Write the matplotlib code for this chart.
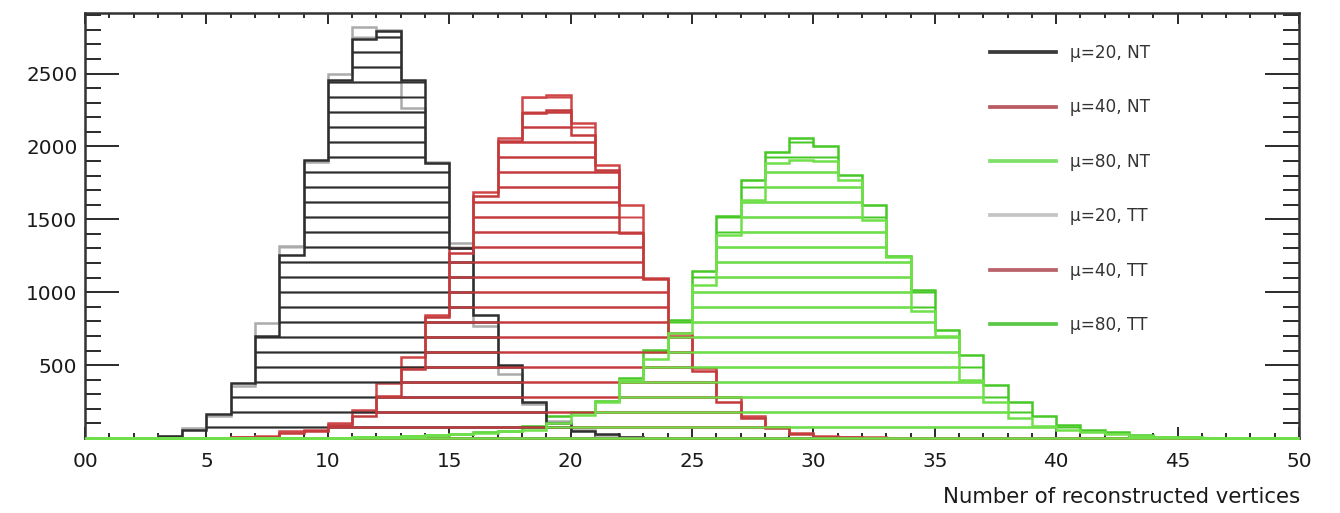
import matplotlib
matplotlib.use('Agg')
import matplotlib.pyplot as plt
from matplotlib.lines import Line2D
from matplotlib.ticker import MultipleLocator, FixedLocator
import numpy as np

plt.rcParams['font.family'] = ['DejaVu Sans']
plt.rcParams['hatch.linewidth'] = 1.6

# ---------------- data ----------------
bin_edges = list(range(0, 51))

mu20_nt = [0, 0, 3, 15, 55, 165, 375, 700, 1255, 1905,
           2455, 2740, 2790, 2456, 1885, 1300, 845, 500, 250, 100,
           50, 25, 8, 3, 0, 0, 0, 0, 0, 0,
           0, 0, 0, 0, 0, 0, 0, 0, 0, 0,
           0, 0, 0, 0, 0, 0, 0, 0, 0, 0]
mu20_tt = [0, 0, 2, 12, 70, 150, 360, 790, 1320, 1895,
           2500, 2820, 2800, 2262, 1890, 1335, 770, 440, 230, 120,
           55, 20, 6, 2, 0, 0, 0, 0, 0, 0,
           0, 0, 0, 0, 0, 0, 0, 0, 0, 0,
           0, 0, 0, 0, 0, 0, 0, 0, 0, 0]
mu40_nt = [0, 0, 0, 0, 1, 2, 5, 10, 35, 45,
           90, 150, 290, 470, 830, 1270, 1660, 2040, 2230, 2250,
           2080, 1840, 1405, 1090, 700, 460, 250, 140, 70, 25,
           10, 5, 2, 0, 0, 0, 0, 0, 0, 0,
           0, 0, 0, 0, 0, 0, 0, 0, 0, 0]
mu40_tt = [0, 0, 0, 0, 2, 3, 6, 15, 45, 55,
           100, 190, 375, 556, 845, 1300, 1690, 2060, 2340, 2355,
           2160, 1875, 1600, 1100, 720, 480, 280, 150, 78, 32,
           15, 8, 4, 2, 0, 0, 0, 0, 0, 0,
           0, 0, 0, 0, 0, 0, 0, 0, 0, 0]
mu80_nt = [0, 0, 0, 0, 0, 0, 0, 0, 0, 1,
           2, 4, 8, 12, 18, 25, 35, 45, 55, 100,
           160, 250, 400, 540, 720, 1050, 1395, 1635, 1885, 1905,
           1900, 1770, 1495, 1240, 870, 700, 400, 250, 140, 80,
           55, 40, 25, 15, 8, 4, 2, 0, 0, 0]
mu80_tt = [0, 0, 0, 0, 0, 0, 0, 0, 1, 2,
           3, 6, 10, 15, 20, 30, 40, 50, 85, 150,
           175, 255, 410, 605, 810, 1145, 1520, 1770, 1965, 2056,
           2000, 1805, 1600, 1245, 1015, 740, 570, 365, 250, 150,
           90, 55, 40, 20, 10, 5, 3, 1, 0, 0]

labels = ['μ=20, NT', 'μ=40, NT', 'μ=80, NT', 'μ=20, TT', 'μ=40, TT', 'μ=80, TT']
series = [mu20_nt, mu40_nt, mu80_nt, mu20_tt, mu40_tt, mu80_tt]
colors = ['#2e2e2e', '#c23a3c', '#6fe04a', '#ababab', '#d04648', '#47c826']
legend_colors = ['#3a3a3a', '#b85c62', '#7fe06a', '#c4c4c4', '#b8626a', '#5cc848']
draw_order = [3, 4, 5, 0, 1, 2]

xticks = [0, 5, 10, 15, 20, 25, 30, 35, 40, 45, 50]
xticklabels = ['00', '5', '10', '15', '20', '25', '30', '35', '40', '45', '50']
yticks = [500, 1000, 1500, 2000, 2500]
yticklabels = ['500', '1000', '1500', '2000', '2500']
xlabel = 'Number of reconstructed vertices'

# ---------------- figure ----------------
W, H, DPI = 1340, 513, 90
fig = plt.figure(figsize=(W / DPI, H / DPI), dpi=DPI)
ax = fig.add_axes([85 / W, 75 / H, (1299 - 85) / W, (438 - 13) / H])

edges = np.array(bin_edges, dtype=float)
centers = (edges[:-1] + edges[1:]) / 2
for k, i in enumerate(draw_order):
    _, _, patches = ax.hist(centers, bins=edges, weights=series[i], histtype='stepfilled',
                            facecolor='none', edgecolor=colors[i], linewidth=2.0, hatch='-')
    for p in patches:
        p.set_clip_on(False)
        p.set_zorder(3 + k * 0.01)

ax.set_xlim(0, 50)
ax.set_ylim(0, 2915)

ax.xaxis.set_major_locator(FixedLocator(xticks))
ax.set_xticklabels(xticklabels)
ax.xaxis.set_minor_locator(MultipleLocator(1))
ax.yaxis.set_major_locator(FixedLocator(yticks))
ax.set_yticklabels(yticklabels)
ax.yaxis.set_minor_locator(MultipleLocator(100))

ax.tick_params(axis='both', which='both', direction='in', top=True, right=True,
               color='#222222', labelcolor='#1a1a1a')
ax.tick_params(axis='x', which='major', length=9, width=1.5, pad=11, labelsize=16)
ax.tick_params(axis='x', which='minor', length=4, width=1.5)
ax.tick_params(axis='y', which='major', length=27, width=1.5, pad=6, labelsize=16)
ax.tick_params(axis='y', which='minor', length=13, width=1.5)
for s in ax.spines.values():
    s.set_linewidth(2.0)
    s.set_color('#333333')

fig.text(1300 / W, 1 - 497 / H, xlabel, ha='right', va='center',
         fontsize=17, color='#1a1a1a')

handles = [Line2D([0], [0], color=c, lw=3) for c in legend_colors]
fs = 13.5
fs_px = fs * DPI / 72
ax.legend(handles, labels, loc='upper left',
          bbox_to_anchor=(990 / W, 1 - 44 / H), bbox_transform=fig.transFigure,
          frameon=False, fontsize=fs, borderpad=0, borderaxespad=0,
          handlelength=66 / fs_px, handletextpad=14 / fs_px,
          labelspacing=(56 - 1.16 * fs_px) / fs_px, labelcolor='#333333')

fig.savefig('out.png', dpi=DPI)
